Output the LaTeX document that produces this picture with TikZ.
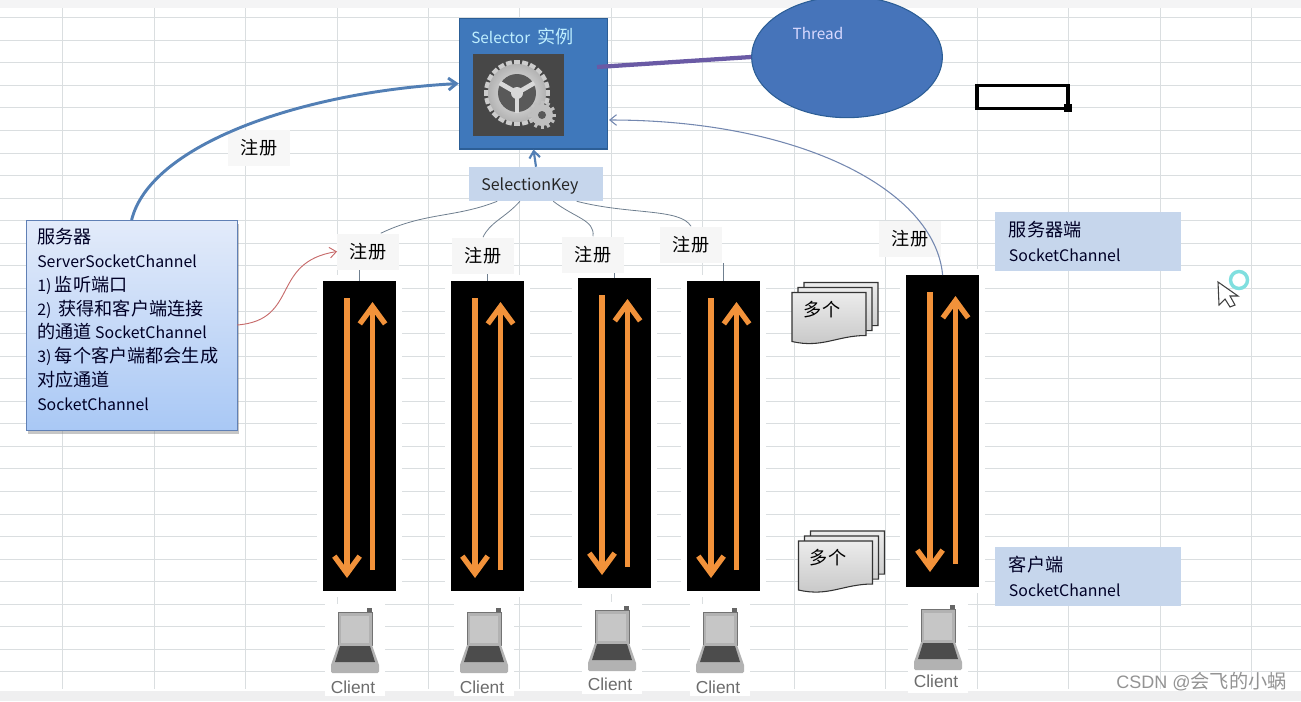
\documentclass[tikz,border=0pt]{standalone}
\usepackage{fontspec}
\setmainfont{Noto Sans CJK SC}
\newfontfamily\clientfont{Liberation Sans}
\newcommand{\zh}[1]{{\fontsize{13.6}{14}\selectfont #1}}
\usetikzlibrary{arrows.meta, shadows, shapes.geometric}
\definecolor{gridc}{HTML}{DADEE0}
\definecolor{selblue}{HTML}{3F78BB}
\definecolor{seledge}{HTML}{2C5E96}
\definecolor{thrblue}{HTML}{4674BA}
\definecolor{keyblue}{HTML}{C6D6EC}
\definecolor{flowc}{HTML}{F2923A}
\definecolor{linkc}{HTML}{6F7F8F}
\definecolor{regblue}{HTML}{527FB5}
\definecolor{backblue}{HTML}{7488B0}
\definecolor{threadlink}{HTML}{6A5AA5}
\definecolor{srvtop}{HTML}{E3EBFA}
\definecolor{srvbot}{HTML}{A9C8F5}
\definecolor{srvedge}{HTML}{6080B5}
\tikzset{
	tag/.style={fill=gray!7, minimum width=46pt, minimum height=27pt, inner sep=0pt},
	chan/.style={fill=black, anchor=north west, minimum width=54.5pt, inner sep=0pt},
	side/.style={fill=keyblue, anchor=north west, minimum width=139.5pt, minimum height=44pt, inner sep=0pt, text width=119pt, align=left, font=\fontsize{11.9}{18.5}\selectfont, text=black!85!blue},
	flow/.style={flowc, line width=4pt, -{Straight Barb[length=13pt,width=19pt]}},
	link/.style={linkc, line width=0.6pt},
	laptop/.pic={
		\fill[gray!80!black] (12,0) rectangle (17,8);
		\draw[black!55, fill=gray!60] (-17,4) rectangle (17,37);
		\fill[gray!45] (-14,8) rectangle (14,35);
		\fill[gray!60] (-17,37) -- (17,37) -- (24,57) -- (-24,57) -- cycle;
		\fill[black!70] (-15,38) -- (15,38) -- (20,54) -- (-20,54) -- cycle;
		\fill[gray!60, rounded corners=1pt] (-24,56) rectangle (24,65);
	},
	sheets/.pic={
		\foreach \dx/\dy in {12/-10, 6/-5, 0/0}
			\draw[black!80, line width=0.8pt, top color=gray!15, bottom color=gray!45, shift={(\dx,\dy)}]
				(0,0) -- (74,0) -- (74,43) .. controls (45,43) and (30,56) .. (0,49) -- cycle;
	}
}
\begin{document}
\begin{tikzpicture}[x=0.75pt, y=-0.75pt]
	\useasboundingbox (0,0) rectangle (1301,701);
	% sheet behind everything
	\fill[blue!4!gray!8] (0,0) rectangle (1301,8);
	\fill[blue!4!gray!12] (0,691) rectangle (1301,701);
	\foreach \k in {0,...,29}
		\draw[gridc] (0,17.5+22.56*\k) -- (1301,17.5+22.56*\k);
	\foreach \k in {0,...,13}
		\draw[gridc] (62.5+91.45*\k,8) -- (62.5+91.45*\k,689);

	% selector and thread
	\node (sel) [fill=selblue, draw=seledge, line width=1pt, minimum width=111pt, minimum height=98pt, inner sep=0pt] at (533.5,83.5) {};
	\node (seltitle) [text=blue!25!cyan!25!white, anchor=west, inner sep=0pt, font=\fontsize{11.5}{14}\selectfont] at (471,37) {Selector\ \ \zh{实例}};
	\node (img) [fill=black!72, minimum width=68pt, minimum height=61.5pt, inner sep=0pt] at (518.5,95) {};
	\foreach \a in {0,15,...,345}
		\fill[gray!40, rotate around={\a:(517,93)}] (514,60) rectangle (520,70);
	\shade[inner color=gray!15, outer color=gray!60] (517,93) circle[radius=29];
	\fill[black!65] (517,93) circle[radius=19];
	\foreach \a in {30,150,270}
		\draw[gray!30, line width=3.5pt, rotate around={\a:(517,93)}] (517,93) -- (537,93);
	\fill[gray!30] (517,93) circle[radius=6];
	\foreach \a in {0,30,...,330}
		\fill[gray!50, rotate around={\a:(542,115)}] (540.5,101) rectangle (543.5,105);
	\fill[gray!50] (542,115) circle[radius=11];
	\fill[black!65] (542,115) circle[radius=4];

	\node (thr) [ellipse, fill=thrblue, draw=seledge, line width=0.8pt, minimum width=143pt, minimum height=91pt, inner sep=0pt] at (847,57) {};
	\node (thrtitle) [text=blue!15!white, font=\fontsize{11.5}{14}\selectfont, inner sep=0pt] at (818,33) {Thread};
	\node (cell) [draw=black, line width=2.6pt, minimum width=68pt, minimum height=17pt, inner sep=0pt] at (1022.5,97) {};
	\node (grip) [fill=black, minimum size=5.5pt, inner sep=0pt] at (1068,108) {};

	\node (key) [fill=keyblue, minimum width=100.5pt, minimum height=25.5pt, inner sep=0pt, text width=82pt, text depth=0pt, align=left, text=black!85, font=\fontsize{12}{14}\selectfont] at (536,184) {SelectionKey};

	% server box
	\node (srv) [anchor=north west, top color=srvtop, bottom color=srvbot, draw=srvedge, drop shadow={shadow xshift=1.5pt, shadow yshift=-2.5pt, opacity=0.45}, minimum width=158pt, minimum height=157.5pt, inner sep=0pt] at (26,220) {};
	\node (srvtext) [anchor=north west, inner sep=0pt, align=left, text=black!85!blue, font=\fontsize{11.9}{17.9}\selectfont] at (37,228) {\zh{服务器}\\ServerSocketChannel\\1) \zh{监听端口}\\2)\ \ \zh{获得和客户端连接}\\\zh{的通道} SocketChannel\\3) \zh{每个客户端都会生成}\\\zh{对应通道}\\SocketChannel};

	% channels and clients
	\foreach \i/\x/\y/\h/\tx/\ty/\cx/\ly/\cy in {
		1/323/281/310/368/251.5/355/608/687,
		2/451/281/310/483/255.5/484/608/687,
		3/578/278/310/593/254.5/612/606/684,
		4/687/281/310/691/244.5/720/608/687,
		5/906/275/312/910/238.5/938/605/681}{
		\fill[white] (\x-6,\y-6) rectangle (\x+79,\y+\h+6);
		\fill[white] (\cx-30,\ly-4) rectangle (\cx+30,\ly+88);
		\node (chan\i) [chan, minimum height=\h*0.75pt] at (\x,\y) {};
		\node (tag\i) [tag] at (\tx,\ty) {\zh{注册}};
		\path (\x+24,\y+17) coordinate (dtop\i) (\x+24,\y+297) coordinate (dend\i)
			(\x+49.5,\y+289) coordinate (ubot\i) (\x+49.5,\y+21) coordinate (utip\i);
		\draw[flow] (dtop\i) -- (dend\i);
		\draw[flow] (ubot\i) -- (utip\i);
		\pic (lap\i) at (\cx,\ly) {laptop};
		\node (cli\i) [text=gray!85!black, inner sep=0pt, font=\clientfont\fontsize{13}{15}\selectfont] at (\cx-2,\cy) {Client};
	}
	\node (tag0) [tag, fill=gray!6] at (259,148) {\zh{注册}};

	% stacks of sheets
	\pic (stacka) at (792,292.5) {sheets};
	\node (mania) [inner sep=0pt] at (822,310) {\zh{多个}};
	\pic (stackb) at (798.5,541) {sheets};
	\node (manib) [inner sep=0pt] at (828,558) {\zh{多个}};

	% side notes
	\node (notesrv) [side] at (995,212) {\zh{服务器端}\\SocketChannel};
	\node (notecli) [side] at (995,547) {\zh{客户端}\\SocketChannel};

	% connectors
	\coordinate (selout) at (597,67);
	\coordinate (selin) at (609,120);
	\draw[regblue, line width=2.2pt, -{Straight Barb[length=6pt,width=9pt]}] (srv.north) .. controls (150,145) and (300,92) .. (sel.west);
	\draw[red!45!gray!80, line width=0.7pt, -{Straight Barb[length=5pt,width=8pt]}] (srv.east |- 0,325) .. controls (300,320) and (270,262) .. (tag1.west);
	\draw[threadlink, line width=3.2pt] (selout) -- (thr.west);
	\draw[regblue, line width=1.6pt, -{Straight Barb[length=5pt,width=8pt]}] (key.north) -- (sel.south);
	\draw[link] (key.-156) .. controls (455,218) and (425,212) .. (tag1.55);
	\draw[link] (key.-133) .. controls (505,218) and (490,222) .. (tag2.north);
	\draw[link] (key.-45) .. controls (575,218) and (595,220) .. (tag3.north);
	\draw[link] (key.-23) .. controls (630,215) and (680,208) .. (tag4.north);
	\foreach \i in {1,...,4}
		\draw[link] (chan\i.north) -- (chan\i.north |- tag\i.south);
	\draw[backblue, line width=0.8pt, -{Straight Barb[length=5pt,width=8pt]}] (chan5.north) .. controls (935,190) and (800,120) .. (selin);

	% pointer from the recording
	\draw[teal!50!cyan!50!white, line width=2.6pt] (1239,280) circle[radius=8.5];
	\draw[black!75, fill=white, line width=0.8pt] (1218,282) -- (1219,305) -- (1225,299) -- (1230,307) -- (1235,305) -- (1230,296) -- (1238,296) -- cycle;

	\node (mark) [text=gray!85, anchor=east, inner sep=0pt, font=\fontsize{14.4}{16}\selectfont] at (1287,682) {{\clientfont\fontsize{13.5}{16}\selectfont CSDN @}会飞的小蜗};
\end{tikzpicture}
\end{document}
